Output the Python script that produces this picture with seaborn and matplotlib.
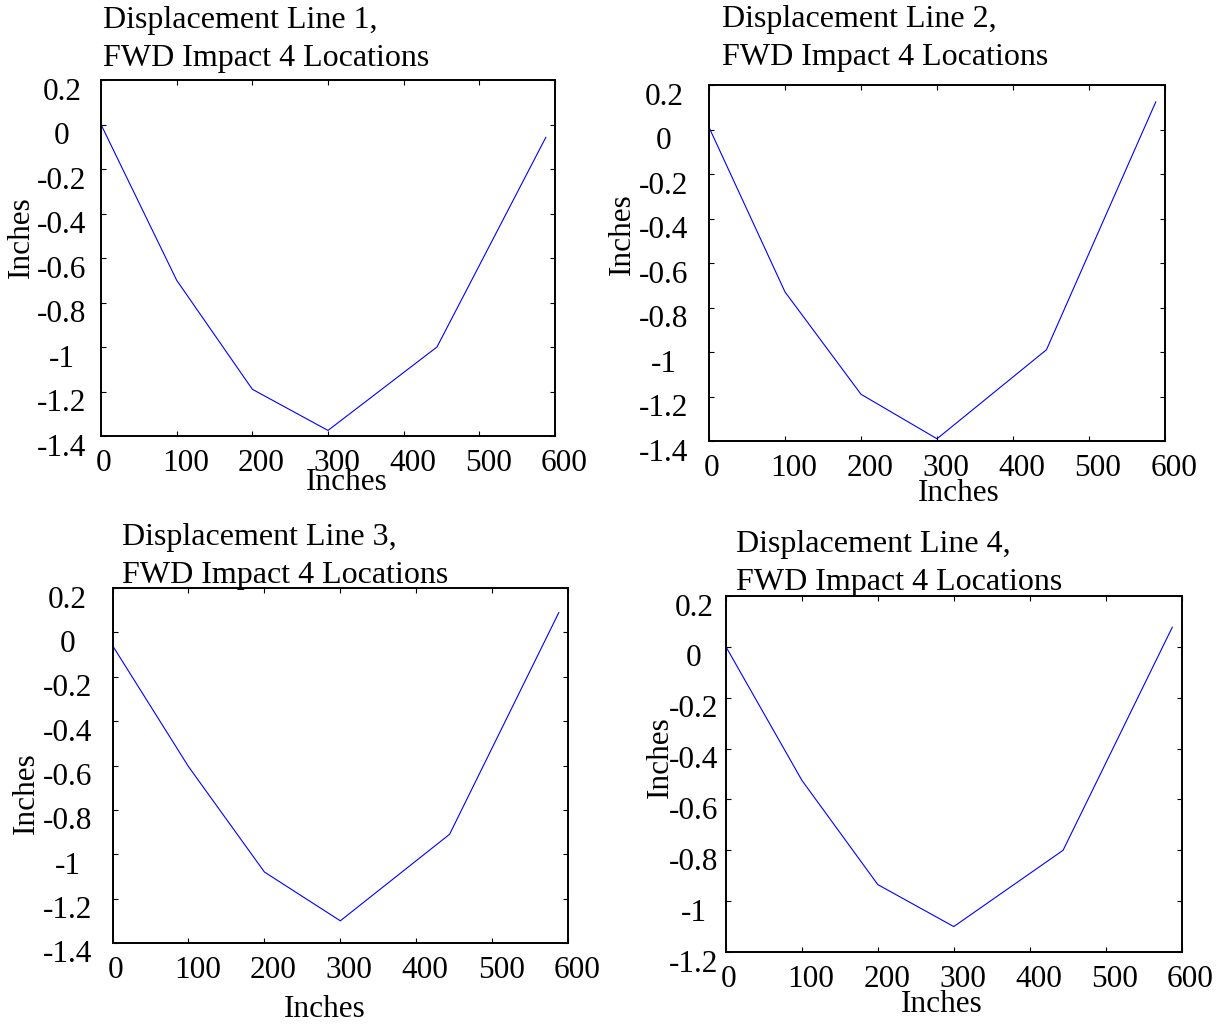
import matplotlib
matplotlib.use("Agg")
import matplotlib.pyplot as plt
import matplotlib.transforms as mtransforms
import pandas as pd
import seaborn as sns

# ---------------- data ----------------
positions = [0, 100, 200, 300, 444, 588]
line1 = [0.0, -0.70, -1.19, -1.375, -1.00, -0.057]
line2 = [0.01, -0.73, -1.19, -1.39, -0.99, 0.125]
line3 = [-0.06, -0.605, -1.08, -1.30, -0.91, 0.09]
line4 = [0.0, -0.525, -0.935, -1.10, -0.80, 0.078]

titles = [
    "Displacement Line 1,\nFWD Impact 4 Locations",
    "Displacement Line 2,\nFWD Impact 4 Locations",
    "Displacement Line 3,\nFWD Impact 4 Locations",
    "Displacement Line 4,\nFWD Impact 4 Locations",
]
x_label = "Inches"
y_label = "Inches"
x_ticks = [0, 100, 200, 300, 400, 500, 600]
y_ticks_a = [0.2, 0, -0.2, -0.4, -0.6, -0.8, -1, -1.2, -1.4]
y_ticks_b = [0.2, 0, -0.2, -0.4, -0.6, -0.8, -1, -1.2]

series = [line1, line2, line3, line4]
yticks_per = [y_ticks_a, y_ticks_a, y_ticks_a, y_ticks_b]

# ---------------- layout (pixels) ----------------
W, H = 1225, 1030
# axes box: left, top, right, bottom
boxes = [(101, 80, 555, 436), (709, 85, 1165, 441),
         (112.6, 588, 568, 943), (726, 596, 1181.5, 952)]
title_pos = [(103, 6), (722, 5), (122, 523), (736, 530)]     # left, top
ylabel_pos = [(21, 237), (622, 234), (26.5, 793), (660, 757)]  # center
xlabel_pos = [(347, 490), (959, 501), (325, 1017), (942, 1012)]  # baseline
ytick_dist = [39, 45, 45, 32]   # px from axis to centre of y tick labels

sns.set_style("ticks")
plt.rcParams["font.family"] = ["Liberation Serif", "DejaVu Serif"]
plt.rcParams["axes.unicode_minus"] = False
plt.rcParams["text.color"] = "black"
plt.rcParams["axes.labelcolor"] = "black"
plt.rcParams["xtick.color"] = "black"
plt.rcParams["ytick.color"] = "black"
plt.rcParams["axes.edgecolor"] = "black"

FS_TITLE = 23
FS_LABEL = 22.5
FS_TICK = 22.5
fig = plt.figure(figsize=(W / 100, H / 100), dpi=100)
fig.patch.set_facecolor("white")

for i in range(4):
    l, t, r, b = boxes[i]
    aw, ah = r - l, b - t
    ax = fig.add_axes([l / W, 1 - b / H, aw / W, ah / H])
    df = pd.DataFrame({"x": positions, "y": series[i]})
    sns.lineplot(data=df, x="x", y="y", ax=ax, color="#0000ff",
                 linewidth=0.8, sort=False)
    yt = yticks_per[i]
    ax.set_xlim(0, 600)
    ax.set_ylim(min(yt), max(yt))
    ax.set_xticks(x_ticks)
    ax.set_xticklabels([f"{v:g}" for v in x_ticks], fontsize=FS_TICK)
    ax.set_yticks(yt)
    ax.set_yticklabels([f"{v:g}" for v in yt], fontsize=FS_TICK, ha="center")
    for s in ax.spines.values():
        s.set_linewidth(1.4)
        s.set_color("black")
    ax.tick_params(axis="both", direction="in", top=True, right=True,
                   length=3.6, width=0.8, labeltop=False, labelright=False)
    ax.tick_params(axis="x", pad=9.5)
    ax.tick_params(axis="y", pad=ytick_dist[i] * 0.72)

    # title
    tx, ty = title_pos[i]
    ax.set_title(titles[i], loc="left", x=(tx - l) / aw, y=1 + (t - ty) / ah,
                 va="top", pad=0, fontsize=FS_TITLE, linespacing=1.42)
    # axis labels
    ax.set_xlabel(x_label, fontsize=FS_LABEL, va="baseline")
    xx, xy = xlabel_pos[i]
    ax.xaxis.set_label_coords((xx - l) / aw, (b - xy) / ah)
    ax.set_ylabel(y_label, fontsize=FS_LABEL, va="center", ha="center")
    yx, yy = ylabel_pos[i]
    ax.yaxis.set_label_coords((yx - l) / aw, (b - yy) / ah)

    # small offsets of tick labels as in the reference
    down = mtransforms.ScaledTranslation(0, -0.085, fig.dpi_scale_trans)
    for tk in ax.yaxis.get_major_ticks():
        tk.label1.set_transform(tk.label1.get_transform() + down)
    for j, tk in enumerate(ax.xaxis.get_major_ticks()):
        dx = 0.03 if j == 0 else 0.09
        sh = mtransforms.ScaledTranslation(dx, 0, fig.dpi_scale_trans)
        tk.label1.set_transform(tk.label1.get_transform() + sh)

fig.savefig("out.png", dpi=100, facecolor="white")
